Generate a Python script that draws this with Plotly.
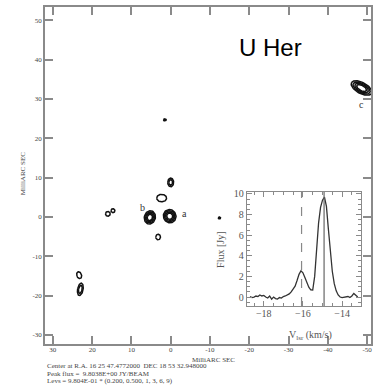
import numpy as np
import plotly.graph_objects as go

# ---------------- data ----------------
# maser spots (milli-arcsec offsets), semi-axes, tilt (deg), number of contour rings
spot_names = ["a", "b", "ring", "top", "low", "pairL", "pairR", "ll1", "ll2", "dot1", "dot2", "c"]
spot_x = [0.25, 5.3, 2.3, 0.0, 3.2, 16.0, 14.7, 23.3, 23.0, 1.5, -12.4, -48.6]
spot_y = [0.2, -0.1, 4.8, 8.8, -5.1, 0.8, 1.6, -14.8, -18.4, 24.7, -0.25, 32.8]
spot_ax = [1.6, 1.4, 1.25, 0.75, 0.6, 0.6, 0.5, 0.6, 0.7, 0.35, 0.3, 2.9]
spot_ay = [1.7, 1.7, 0.95, 1.1, 0.7, 0.6, 0.5, 0.9, 1.6, 0.25, 0.25, 1.4]
spot_ang = [-20, 15, 0, 0, 0, 0, 0, -20, 10, 0, 0, 28]
spot_rings = [4, 4, 1, 2, 1, 1, 1, 1, 2, 2, 2, 4]

label_text = ["a", "b", "c"]
label_x = [-3.4, 7.3, -48.6]
label_y = [1.0, 2.4, 28.7]

main_xticks = [30, 20, 10, 0, -10, -20, -30, -40, -50]
main_xtext = ["30", "20", "10", "0", "-10", "-20", "-30", "-40", "-50"]
main_yticks = [50, 40, 30, 20, 10, 0, -10, -20, -30]
main_ytext = ["50", "40", "30", "20", "10", "0", "-10", "-20", "-30"]

# spectrum (inset)
vel = [-18.7, -18.6, -18.5, -18.4, -18.3, -18.2, -18.1, -18.0, -17.9, -17.8,
       -17.7, -17.6, -17.5, -17.4, -17.3, -17.2, -17.1, -17.0, -16.9, -16.8,
       -16.7, -16.6, -16.5, -16.4, -16.3, -16.2, -16.1, -16.0, -15.9, -15.8,
       -15.7, -15.6, -15.5, -15.4, -15.3, -15.2, -15.1, -15.0, -14.9, -14.8,
       -14.7, -14.6, -14.5, -14.4, -14.3, -14.2, -14.1, -14.0, -13.9, -13.8,
       -13.7, -13.6, -13.5, -13.4, -13.3, -13.2]
flux = [0.05, -0.05, 0.0, 0.1, 0.05, 0.2, 0.1, 0.15, 0.0, -0.1,
        0.1, -0.2, 0.0, -0.15, -0.2, -0.05, -0.1, 0.05, 0.1, 0.2,
        0.3, 0.5, 0.75, 1.05, 1.6, 2.2, 2.55, 2.35, 1.9, 1.4,
        0.95, 0.7, 0.68, 2.0, 4.8, 7.2, 8.7, 9.4, 9.7, 8.8,
        6.6, 4.3, 2.5, 1.3, 0.6, 0.2, 0.0, -0.05, -0.02, 0.0,
        0.05, -0.05, 0.1, 0.35, 0.2, 0.0]
vline_dashed = -16.07
vline_solid = -14.92
inset_xticks = [-18, -16, -14]
inset_xtext = ["\u221218", "\u221216", "\u221214"]
inset_yticks = [0, 2, 4, 6, 8, 10]

# ---------------- figure ----------------
SERIF = "Liberation Serif"
AX_COL = "#8a8a8a"
TXT_COL = "#444444"

fig = go.Figure()

t = np.linspace(0, 2 * np.pi, 72)
for cx, cy, a, b, ang, n in zip(spot_x, spot_y, spot_ax, spot_ay, spot_ang, spot_rings):
    th = np.deg2rad(ang)
    xs, ys = [], []
    for k in range(n):
        s = 1.0 - k * (0.7 / max(n, 1)) if n > 1 else 1.0
        ex = s * a * np.cos(t)
        ey = s * b * np.sin(t)
        xs += list(cx + ex * np.cos(th) - ey * np.sin(th)) + [None]
        ys += list(cy + ex * np.sin(th) + ey * np.cos(th)) + [None]
    fig.add_trace(go.Scatter(x=xs, y=ys, mode="lines",
                             line=dict(color="#111111", width=1.5),
                             xaxis="x", yaxis="y", showlegend=False, hoverinfo="skip"))

fig.add_trace(go.Scatter(x=vel, y=flux, mode="lines",
                         line=dict(color="#333333", width=1.3),
                         xaxis="x2", yaxis="y2", showlegend=False))

for txt, lx, ly in zip(label_text, label_x, label_y):
    fig.add_annotation(x=lx, y=ly, xref="x", yref="y", text=txt, showarrow=False,
                       xanchor="center", yanchor="middle",
                       font=dict(family=SERIF, size=10, color="#333333"))

fig.add_shape(type="line", xref="x2", yref="y2 domain", x0=vline_dashed, x1=vline_dashed,
              y0=0, y1=1, line=dict(color="#888888", width=1.2, dash="dash"))
fig.add_shape(type="line", xref="x2", yref="y2 domain", x0=vline_solid, x1=vline_solid,
              y0=0, y1=1, line=dict(color="#666666", width=1.2))

W, H = 373, 385
L, R, T, B = 45, 0, 7, 41
pw, ph = W - L - R, H - T - B


def px(xp):
    return (xp - L) / pw


def py(yp):
    return (H - B - yp) / ph


axis_common = dict(showline=True, linecolor=AX_COL, linewidth=1.5, mirror="ticks",
                   ticks="inside", ticklen=8, tickwidth=1.5, tickcolor=AX_COL,
                   showgrid=False, zeroline=False,
                   tickfont=dict(family=SERIF, size=7, color=TXT_COL))

fig.update_layout(
    width=W, height=H,
    margin=dict(l=L, r=R, t=T, b=B),
    paper_bgcolor="white", plot_bgcolor="white",
    xaxis=dict(domain=[0, 1], range=[32, -51], tickvals=main_xticks, ticktext=main_xtext,
               ticklabelstandoff=-2, **axis_common),
    yaxis=dict(domain=[0, 1], range=[-32.3, 53.4], tickvals=main_yticks, ticktext=main_ytext,
               **axis_common),
    xaxis2=dict(domain=[px(248), px(363)], anchor="y2", range=[-18.87, -13.03],
                tickvals=inset_xticks, ticktext=inset_xtext, ticklabelstandoff=-2,
                showline=True, linecolor=AX_COL, linewidth=1.2, mirror="ticks",
                ticks="inside", ticklen=5, tickwidth=1, tickcolor=AX_COL,
                minor=dict(ticks="inside", ticklen=3, dtick=0.5, tickcolor=AX_COL),
                showgrid=False, zeroline=False,
                tickfont=dict(family=SERIF, size=10, color="#555555")),
    yaxis2=dict(domain=[py(306), py(192)], anchor="x2", range=[-0.87, 10.19],
                tickvals=inset_yticks,
                showline=True, linecolor=AX_COL, linewidth=1.2, mirror="ticks",
                ticks="inside", ticklen=5, tickwidth=1, tickcolor=AX_COL,
                minor=dict(ticks="inside", ticklen=3, dtick=0.5, tickcolor=AX_COL),
                showgrid=False, zeroline=False,
                tickfont=dict(family=SERIF, size=10, color="#555555")),
)

ann = [
    dict(x=px(272), y=py(48), text="U Her", font=dict(family="Liberation Sans", size=24, color="black")),
    dict(x=px(23), y=py(174), text="MilliARC SEC", textangle=-90,
         font=dict(family=SERIF, size=7, color=TXT_COL)),
    dict(x=px(215), y=py(360), text="MilliARC SEC", font=dict(family=SERIF, size=7, color=TXT_COL)),
    dict(x=px(222), y=py(250), text="Flux [Jy]", textangle=-90,
         font=dict(family=SERIF, size=10, color="#555555")),
    dict(x=px(312), y=py(335), text="V<sub>lsr</sub> (km/s)",
         font=dict(family=SERIF, size=10, color="#555555")),
]
for a in ann:
    fig.add_annotation(xref="paper", yref="paper", showarrow=False,
                       xanchor="center", yanchor="middle", **a)

foot = ["Center at R.A. 16 25 47.4772000  DEC 18 53 32.948000",
        "Peak flux =  9.8038E+00 JY/BEAM",
        "Levs = 9.804E-01 * (0.200, 0.500, 1, 3, 6, 9)"]
for line, yy in zip(foot, [366, 373.5, 381]):
    fig.add_annotation(xref="paper", yref="paper", x=px(45), y=py(yy), xanchor="left",
                       yanchor="middle", text=line, showarrow=False,
                       font=dict(family=SERIF, size=7, color=TXT_COL))

fig.write_html("out.html", config={"displayModeBar": False},
               post_script="document.body.style.margin='0';document.body.style.padding='0';")
